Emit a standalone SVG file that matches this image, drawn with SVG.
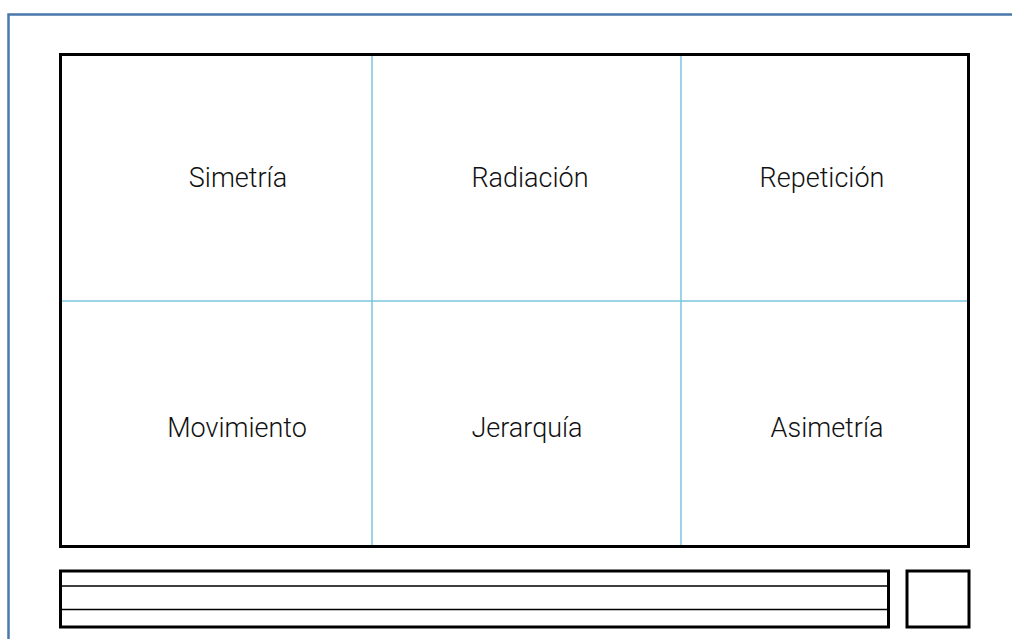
<svg xmlns="http://www.w3.org/2000/svg" width="1012" height="639" viewBox="0 0 1012 639">
<style>
.lbl{font-family:Roboto,"Liberation Sans",Arial,sans-serif;font-weight:300;font-size:27px;fill:#111;text-anchor:middle}
.blk{fill:none;stroke:#000;stroke-width:3}
.thin{stroke:#000;stroke-width:1.5}
.grid{stroke:#7ac6dc;stroke-width:1.5}
</style>
<rect x="0" y="0" width="1012" height="639" fill="#fff"/>
<path d="M8.5,650 V14.5 H1020" fill="none" stroke="#4a78aa" stroke-width="2.5"/>
<g id="connectors">
<line class="grid" x1="372" y1="55" x2="372" y2="546"/>
<line class="grid" x1="681" y1="55" x2="681" y2="546"/>
<line class="grid" x1="61" y1="301" x2="968" y2="301"/>
</g>
<g id="frame"><rect class="blk" x="60.5" y="54.5" width="908" height="492"/></g>
<g id="n-simetria"><text class="lbl" x="238" y="187">Simetría</text></g>
<g id="n-radiacion"><text class="lbl" x="530" y="187">Radiación</text></g>
<g id="n-repeticion"><text class="lbl" x="822" y="187">Repetición</text></g>
<g id="n-movimiento"><text class="lbl" x="237" y="437">Movimiento</text></g>
<g id="n-jerarquia"><text class="lbl" x="527" y="437">Jerarquía</text></g>
<g id="n-asimetria"><text class="lbl" x="827" y="437">Asimetría</text></g>
<g id="strip">
<rect class="blk" x="60.5" y="571" width="828" height="56"/>
<line class="thin" x1="61" y1="586" x2="888" y2="586"/>
<line class="thin" x1="61" y1="609.5" x2="888" y2="609.5"/>
</g>
<g id="box"><rect class="blk" x="907" y="571" width="62" height="56"/></g>
</svg>
